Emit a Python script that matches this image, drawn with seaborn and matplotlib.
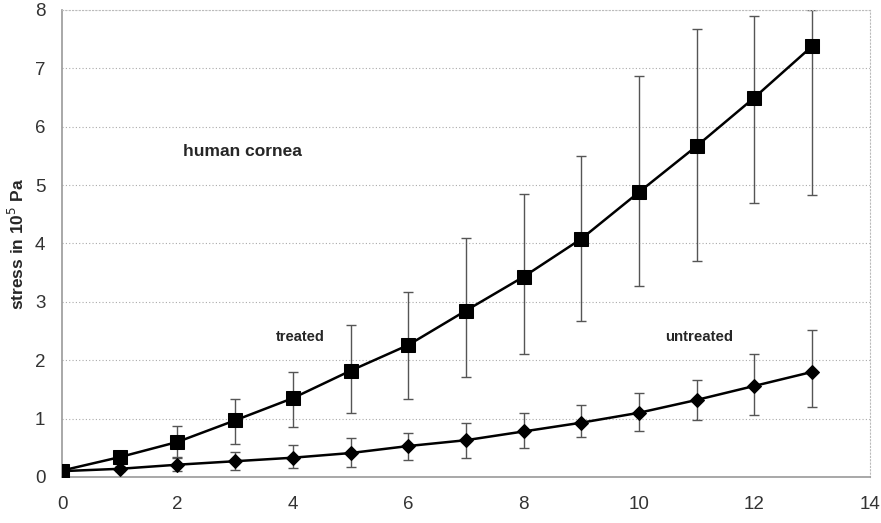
import numpy as np
import pandas as pd
import matplotlib
matplotlib.use("Agg")
import matplotlib.pyplot as plt
import seaborn as sns

# Werte
strain = [0, 1, 2, 3, 4, 5, 6, 7, 8, 9, 10, 11, 12, 13]

treated = [0.11, 0.34, 0.60, 0.97, 1.35, 1.82, 2.26, 2.85, 3.43, 4.08, 4.88, 5.67, 6.50, 7.38]
treated_lo = [0.11, 0.30, 0.34, 0.57, 0.86, 1.10, 1.33, 1.72, 2.11, 2.67, 3.27, 3.70, 4.70, 4.83]
treated_hi = [0.11, 0.38, 0.88, 1.34, 1.80, 2.60, 3.17, 4.09, 4.85, 5.50, 6.86, 7.68, 7.90, 8.00]

untreated = [0.10, 0.14, 0.21, 0.27, 0.33, 0.41, 0.53, 0.63, 0.78, 0.93, 1.10, 1.32, 1.56, 1.80]
untreated_lo = [0.10, 0.10, 0.10, 0.12, 0.15, 0.17, 0.29, 0.33, 0.50, 0.69, 0.79, 0.98, 1.07, 1.20]
untreated_hi = [0.10, 0.18, 0.33, 0.43, 0.55, 0.67, 0.76, 0.92, 1.09, 1.23, 1.43, 1.66, 2.11, 2.51]

df = pd.DataFrame({
    "strain": strain * 2,
    "stress": treated + untreated,
    "group": ["treated"] * len(strain) + ["untreated"] * len(strain),
})

sns.set_style("white")
plt.rcParams["font.family"] = ["Liberation Sans", "DejaVu Sans"]

fig = plt.figure(figsize=(8.81, 5.23), dpi=100)
ax = fig.add_axes([0.0704, 0.088, 0.917, 0.893])

# Fehlerbalken
for y, lo, hi in [(treated, treated_lo, treated_hi), (untreated, untreated_lo, untreated_hi)]:
    y = np.array(y)
    err = [y - np.array(lo), np.array(hi) - y]
    ax.errorbar(strain, y, yerr=err, fmt="none", ecolor="#555555",
                elinewidth=1.0, capsize=3.5, capthick=1.0, zorder=2)

# Kurven
sns.lineplot(data=df[df["group"] == "treated"], x="strain", y="stress",
             marker="s", markersize=9.5, color="black", linewidth=1.8,
             markeredgecolor="black", ax=ax, zorder=3)
sns.lineplot(data=df[df["group"] == "untreated"], x="strain", y="stress",
             marker="D", markersize=7, color="black", linewidth=1.8,
             markeredgecolor="black", ax=ax, zorder=3)

ax.set_xlim(0, 14)
ax.set_ylim(0, 8)
ax.set_xticks(range(0, 15, 2))
ax.set_yticks(range(0, 9))
ax.yaxis.grid(True, linestyle=(0, (1, 2)), color="#aaaaaa", linewidth=0.8)
ax.xaxis.grid(False)

ax.tick_params(axis="both", labelsize=13.5, colors="#333333", length=3, width=0.8)
ax.tick_params(axis="y", length=0, pad=12)
ax.tick_params(axis="x", pad=11)

for side in ["left", "bottom"]:
    ax.spines[side].set_color("#999999")
    ax.spines[side].set_linewidth(1.2)
for side in ["top", "right"]:
    ax.spines[side].set_color("#bbbbbb")
    ax.spines[side].set_linestyle((0, (1, 2)))
    ax.spines[side].set_linewidth(0.8)

ax.set_xlabel("")
ax.set_ylabel("stress in 10$^5$ Pa", fontsize=12.5, fontweight="bold", labelpad=6)

ax.text(2.1, 5.57, "human cornea", fontsize=12.5, fontweight="bold", va="center")
ax.text(3.7, 2.4, "treated", fontsize=10.5, fontweight="bold", va="center")
ax.text(10.45, 2.4, "untreated", fontsize=10.8, fontweight="bold", va="center")

fig.savefig("out.png", dpi=100)
